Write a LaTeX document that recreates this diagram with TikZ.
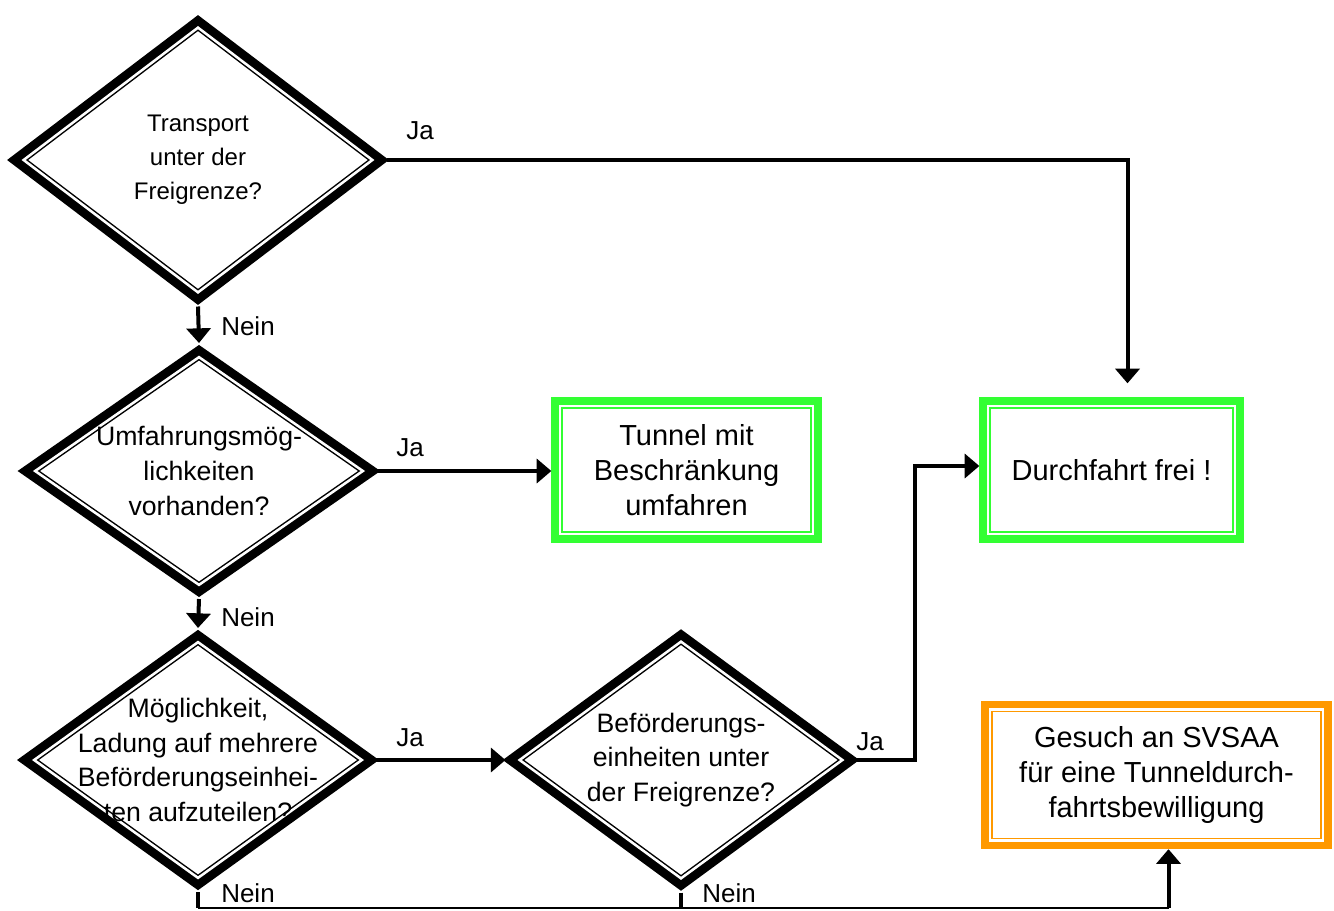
\documentclass[tikz,border=0pt]{standalone}
\usepackage{fontspec}
\setmainfont{Liberation Sans}
\usetikzlibrary{shapes.geometric,arrows.meta}

\definecolor{okgreen}{RGB}{51,255,51}
\definecolor{warnorange}{RGB}{255,153,0}

\begin{document}
\begin{tikzpicture}[
  x=0.75pt,y=-0.75pt,
  >={Triangle[length=11pt,width=18pt]},
  question/.style={diamond,align=center,inner sep=-30pt,fill=white,
    draw=black,line width=1.1pt,double=white,double distance=1.9pt,
    preaction={draw=black,line width=15pt},outer sep=7.5pt,
    font=\fontsize{20}{26}\selectfont},
  result/.style={rectangle,align=center,inner sep=0pt,fill=white,
    draw=#1,line width=1.1pt,double=white,double distance=1.9pt,
    preaction={draw=#1,line width=13pt},outer sep=6.5pt,
    font=\fontsize{21.75}{26}\selectfont},
  flow/.style={line width=3pt},
  answer/.style={font=\fontsize{19.5}{23}\selectfont}
]
\useasboundingbox (0,0) rectangle (1334,910);

% decisions
\node[question,minimum width=267.75pt,minimum height=204.75pt,
  font=\fontsize{18}{25.5}\selectfont] (q1) at (198,160)
  {Transport\\unter der\\Freigrenze?};
\node[question,minimum width=252pt,minimum height=177pt] (q2) at (199,471)
  {Umfahrungsmög-\\lichkeiten\\vorhanden?};
\node[question,minimum width=252pt,minimum height=183pt] (q3) at (198,760)
  {Möglichkeit,\\Ladung auf mehrere\\Beförderungseinhei-\\ten aufzuteilen?};
\node[question,minimum width=248.25pt,minimum height=183.75pt] (q4) at (681,760)
  {Beförderungs-\\einheiten unter\\der Freigrenze?};

% outcomes
\node[result=okgreen,minimum width=189.75pt,minimum height=96pt] (detour) at (686.5,470)
  {Tunnel mit\\Beschränkung\\umfahren};
\node[result=okgreen,minimum width=185.25pt,minimum height=96pt] (free) at (1111.5,470)
  {Durchfahrt frei !};
\node[result=warnorange,minimum width=249.75pt,minimum height=98.25pt] (permit) at (1156.5,775)
  {Gesuch an SVSAA\\für eine Tunneldurch-\\fahrtsbewilligung};

% answers
\node[answer] (ja1) at (420,131) {Ja};
\node[answer] (nein1) at (248,326) {Nein};
\node[answer] (ja2) at (410,448) {Ja};
\node[answer] (nein2) at (248,617) {Nein};
\node[answer] (ja3) at (410,738) {Ja};
\node[answer] (ja4) at (870,742) {Ja};
\node[answer] (nein3) at (248,893) {Nein};
\node[answer] (nein4) at (729,893) {Nein};

% connectors
\coordinate (base) at (0,908);
\coordinate (up) at ([xshift=9pt]permit.south);

\draw[flow,->] (q1.east) -| ([xshift=12pt,yshift=10.5pt]free.north);
\draw[flow,->] (q1.south) -- (q2.north);
\draw[flow,->] (q2.east) -- (q2.east -| detour.west);
\draw[flow,->] (q2.south) -- (q3.north);
\draw[flow,->] (q3.east) -- (q4.west);
\draw[flow,->] (q4.east) -- ++(58,0) |- ([yshift=3pt]free.west);
\draw[flow] (q3.south) -- (q3.south |- base);
\draw[flow] (q4.south) -- (q4.south |- base);
\draw[line width=1.5pt] (q3.south |- base) -- (up |- base);
\draw[flow,->] (up |- base) -- (up);

\end{tikzpicture}
\end{document}
